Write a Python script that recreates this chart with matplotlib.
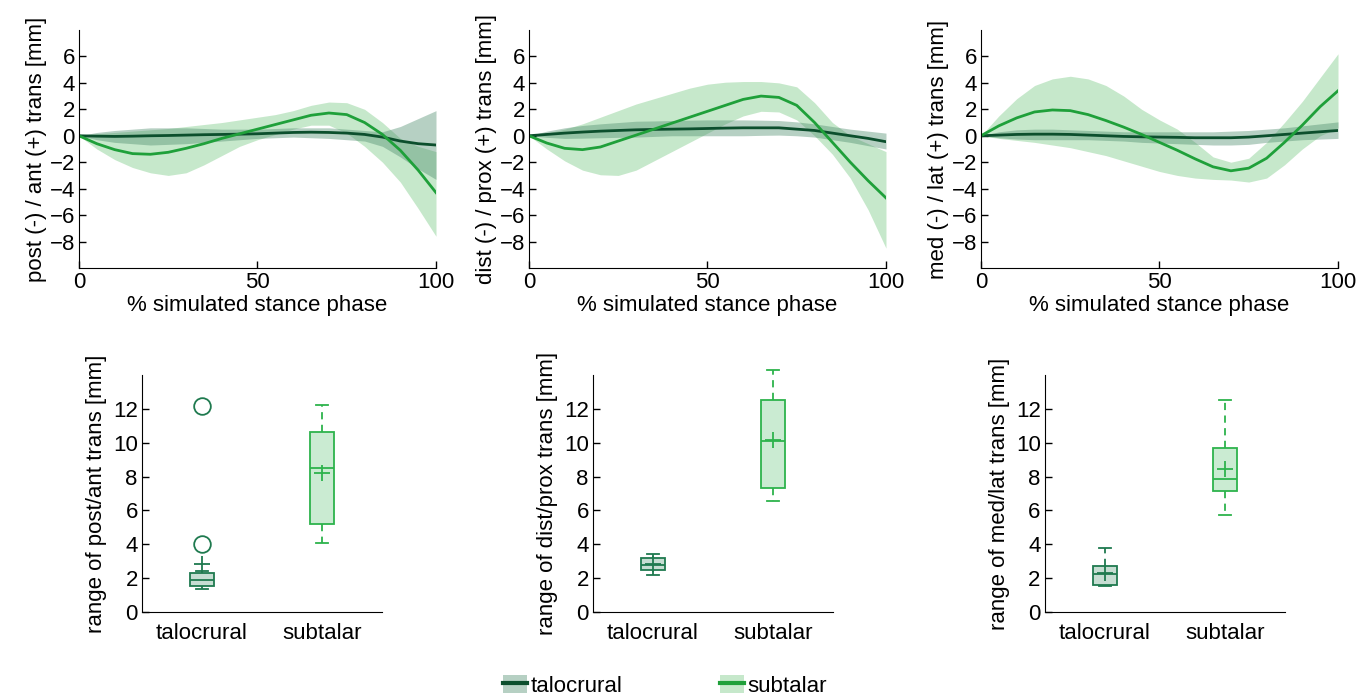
import matplotlib
matplotlib.use('Agg')
import matplotlib.pyplot as plt
from matplotlib.patches import Patch
from matplotlib.lines import Line2D

plt.rcParams['font.family'] = ['Liberation Sans', 'DejaVu Sans']
plt.rcParams['font.size'] = 16

# % simulated stance phase (sampled every 5 %)
stance = [0, 5, 10, 15, 20, 25, 30, 35, 40, 45, 50, 55, 60, 65, 70, 75, 80, 85, 90, 95, 100]

# post (-) / ant (+) translation [mm]
pa_talo_mean = [0, -0.03, -0.05, -0.03, 0, 0.02, 0.05, 0.08, 0.1, 0.12, 0.15, 0.2, 0.25, 0.27, 0.25, 0.2, 0.1, -0.1, -0.4, -0.6, -0.7]
pa_talo_hi = [0, 0.25, 0.4, 0.5, 0.6, 0.6, 0.6, 0.55, 0.5, 0.5, 0.5, 0.55, 0.6, 0.6, 0.6, 0.5, 0.4, 0.3, 0.7, 1.3, 1.9]
pa_talo_lo = [0, -0.3, -0.5, -0.6, -0.7, -0.65, -0.6, -0.5, -0.4, -0.3, -0.2, -0.15, -0.1, -0.15, -0.2, -0.3, -0.4, -0.8, -1.6, -2.5, -3.3]
pa_sub_mean = [0, -0.6, -1.05, -1.35, -1.4, -1.25, -0.95, -0.6, -0.2, 0.15, 0.5, 0.85, 1.2, 1.55, 1.72, 1.6, 1.0, 0.1, -1.1, -2.6, -4.3]
pa_sub_hi = [0, 0.15, 0.25, 0.35, 0.45, 0.55, 0.7, 0.85, 1.0, 1.2, 1.4, 1.6, 1.9, 2.3, 2.55, 2.5, 2.0, 1.0, -0.2, -0.8, -1.2]
pa_sub_lo = [0, -1.0, -1.8, -2.4, -2.8, -3.0, -2.8, -2.2, -1.5, -0.8, -0.3, 0.1, 0.5, 0.8, 0.8, 0.2, -0.8, -2.0, -3.5, -5.5, -7.6]

# dist (-) / prox (+) translation [mm]
dp_talo_mean = [0, 0.1, 0.2, 0.28, 0.35, 0.4, 0.45, 0.48, 0.5, 0.52, 0.55, 0.58, 0.6, 0.6, 0.6, 0.5, 0.4, 0.2, 0.0, -0.2, -0.45]
dp_talo_hi = [0, 0.35, 0.6, 0.78, 0.9, 1.0, 1.1, 1.12, 1.15, 1.18, 1.2, 1.2, 1.2, 1.18, 1.15, 1.05, 0.9, 0.7, 0.5, 0.35, 0.2]
dp_talo_lo = [0, -0.12, -0.2, -0.18, -0.15, -0.12, -0.1, -0.05, 0.0, 0.0, 0.0, 0.0, 0.0, 0.03, 0.05, 0.0, -0.1, -0.3, -0.5, -0.75, -1.0]
dp_sub_mean = [0, -0.55, -0.95, -1.05, -0.85, -0.4, 0.05, 0.5, 0.95, 1.4, 1.85, 2.3, 2.75, 3.0, 2.9, 2.3, 1.0, -0.5, -2.0, -3.4, -4.7]
dp_sub_hi = [0, 0.2, 0.5, 0.9, 1.4, 1.9, 2.4, 2.8, 3.2, 3.6, 3.9, 4.05, 4.1, 4.1, 4.0, 3.7, 2.5, 1.0, 0.0, -0.6, -1.2]
dp_sub_lo = [0, -1.0, -1.9, -2.6, -2.95, -3.0, -2.6, -1.9, -1.2, -0.5, 0.2, 0.9, 1.5, 1.85, 1.8, 1.2, 0.0, -1.4, -3.2, -5.6, -8.5]

# med (-) / lat (+) translation [mm]
ml_talo_mean = [0, 0.05, 0.1, 0.12, 0.12, 0.1, 0.05, 0.0, -0.05, -0.08, -0.1, -0.12, -0.15, -0.15, -0.15, -0.1, 0.0, 0.1, 0.2, 0.3, 0.4]
ml_talo_hi = [0, 0.3, 0.45, 0.5, 0.5, 0.45, 0.4, 0.35, 0.3, 0.3, 0.3, 0.3, 0.3, 0.3, 0.35, 0.4, 0.5, 0.6, 0.75, 0.9, 1.05]
ml_talo_lo = [0, -0.15, -0.25, -0.3, -0.3, -0.3, -0.3, -0.35, -0.4, -0.5, -0.55, -0.6, -0.65, -0.7, -0.7, -0.65, -0.5, -0.4, -0.3, -0.25, -0.2]
ml_sub_mean = [0, 0.75, 1.35, 1.8, 1.95, 1.9, 1.6, 1.15, 0.65, 0.1, -0.5, -1.1, -1.75, -2.35, -2.65, -2.45, -1.7, -0.5, 0.8, 2.2, 3.4]
ml_sub_hi = [0, 1.5, 2.8, 3.8, 4.3, 4.5, 4.3, 3.8, 3.0, 2.0, 1.2, 0.5, -0.5, -1.6, -2.0, -1.7, -0.5, 1.0, 2.6, 4.4, 6.2]
ml_sub_lo = [0, -0.2, -0.35, -0.5, -0.7, -0.9, -1.2, -1.5, -1.9, -2.3, -2.7, -3.0, -3.2, -3.3, -3.35, -3.5, -3.2, -2.2, -1.0, 0.0, 0.6]

# range boxplot statistics [mm]: (whislo, q1, med, q3, whishi, mean, fliers)
joints = ['talocrural', 'subtalar']
pa_box = [(1.35, 1.55, 1.9, 2.3, 2.4, 2.85, [4.0, 12.15]),
          (4.05, 5.2, 8.5, 10.65, 12.2, 8.2, [])]
dp_box = [(2.2, 2.45, 2.8, 3.2, 3.45, 2.85, []),
          (6.55, 7.3, 10.1, 12.5, 14.3, 10.15, [])]
ml_box = [(1.55, 1.6, 2.25, 2.7, 3.75, 2.3, []),
          (5.75, 7.15, 7.85, 9.7, 12.5, 8.45, [])]

top_labels = ['post (-) / ant (+) trans [mm]', 'dist (-) / prox (+) trans [mm]', 'med (-) / lat (+) trans [mm]']
box_labels = ['range of post/ant trans [mm]', 'range of dist/prox trans [mm]', 'range of med/lat trans [mm]']

talo_line = '#0c4f2d'
talo_fill = '#4a8a6a'
sub_line = '#1fa03a'
sub_fill = '#5cbf6a'
talo_box = '#1f7a4f'
sub_box = '#2db34c'

fig = plt.figure(figsize=(13.57, 6.97), dpi=100)

top_series = [
    (pa_talo_mean, pa_talo_lo, pa_talo_hi, pa_sub_mean, pa_sub_lo, pa_sub_hi),
    (dp_talo_mean, dp_talo_lo, dp_talo_hi, dp_sub_mean, dp_sub_lo, dp_sub_hi),
    (ml_talo_mean, ml_talo_lo, ml_talo_hi, ml_sub_mean, ml_sub_lo, ml_sub_hi),
]
top_left = [0.0582, 0.3898, 0.7229]
for i, (tm, tl, th, sm, sl, sh) in enumerate(top_series):
    ax = fig.add_axes([top_left[i], 0.6155, 0.2631, 0.3415])
    ax.fill_between(stance, sl, sh, color=sub_fill, alpha=0.35, lw=0)
    ax.fill_between(stance, tl, th, color=talo_fill, alpha=0.4, lw=0)
    ax.plot(stance, tm, color=talo_line, lw=2)
    ax.plot(stance, sm, color=sub_line, lw=2)
    ax.set_xlim(0, 100)
    ax.set_ylim(-10, 8)
    ax.set_xticks([0, 50, 100])
    ax.set_yticks(range(-8, 7, 2))
    ax.set_xlabel('% simulated stance phase', labelpad=1)
    ax.set_ylabel(top_labels[i], labelpad=2)
    for s in ['top', 'right']:
        ax.spines[s].set_visible(False)
    ax.tick_params(direction='in', length=5, width=1, pad=3)

box_sets = [pa_box, dp_box, ml_box]
box_left = [0.1046, 0.437, 0.770]
for i, bs in enumerate(box_sets):
    ax = fig.add_axes([box_left[i], 0.122, 0.1769, 0.340])
    for j, (wl, q1, med, q3, wh, mn, fl) in enumerate(bs):
        col = talo_box if j == 0 else sub_box
        stats = [dict(whislo=wl, q1=q1, med=med, q3=q3, whishi=wh, mean=mn, fliers=fl)]
        parts = ax.bxp(stats, positions=[j + 1], widths=0.2, showmeans=True,
                       patch_artist=True, manage_ticks=False,
                       boxprops=dict(edgecolor=col, facecolor=col, lw=1.3),
                       medianprops=dict(color=col, lw=1.3),
                       whiskerprops=dict(color=col, lw=1.3, ls=(0, (4, 3))),
                       capprops=dict(color=col, lw=1.3),
                       capwidths=0.1,
                       meanprops=dict(marker='+', markeredgecolor=col, markersize=12, markeredgewidth=1.3),
                       flierprops=dict(marker='o', markeredgecolor=col, markerfacecolor='none',
                                       markersize=12, markeredgewidth=1.3))
        for b in parts['boxes']:
            b.set_facecolor((*matplotlib.colors.to_rgb(col), 0.25))
        for k in ['whiskers', 'caps']:
            for a in parts[k]:
                a.set_clip_on(False)
    ax.set_xlim(0.5, 2.5)
    ax.set_ylim(0, 14)
    ax.set_xticks([1, 2])
    ax.set_xticklabels(joints)
    ax.set_yticks(range(0, 13, 2))
    ax.set_ylabel(box_labels[i], labelpad=4)
    for s in ['top', 'right']:
        ax.spines[s].set_visible(False)
    ax.tick_params(axis='y', direction='in', length=5, width=1, pad=3)
    ax.tick_params(axis='x', length=0, pad=8)

handles = [(Patch(facecolor=talo_fill, alpha=0.4, lw=0), Line2D([], [], color=talo_line, lw=3)),
           (Patch(facecolor=sub_fill, alpha=0.35, lw=0), Line2D([], [], color=sub_line, lw=3))]
fig.legend(handles, joints, loc='center', bbox_to_anchor=(0.49, 0.016), ncol=2, frameon=False,
           columnspacing=4.4, handlelength=1.1, handleheight=0.9, handletextpad=0.15, fontsize=16,
           borderpad=0, borderaxespad=0)

fig.savefig('out.png', dpi=100)
